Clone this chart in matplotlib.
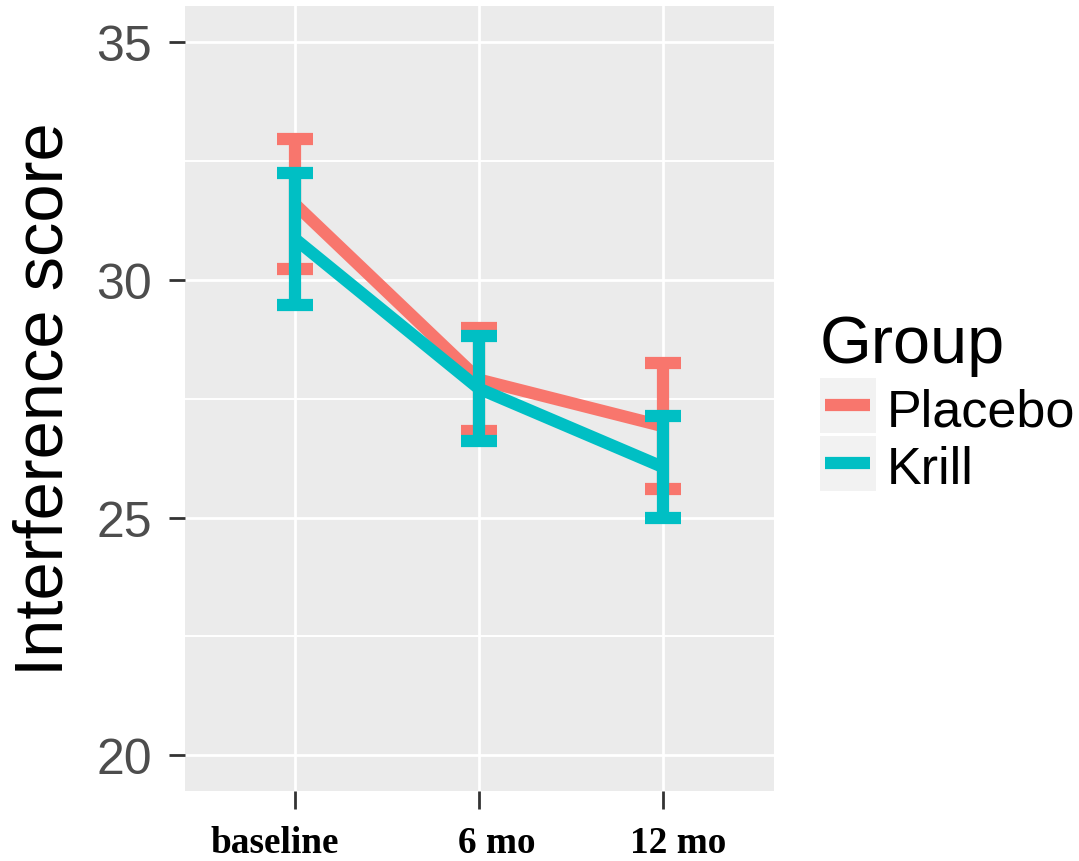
import matplotlib
matplotlib.use("Agg")
import matplotlib.pyplot as plt
import matplotlib.transforms as mtransforms
from matplotlib.patches import Rectangle
from matplotlib.lines import Line2D

# ---- data ----
timepoints = ["baseline", "6 mo", "12 mo"]
groups = ["Placebo", "Krill"]
placebo_mean = [31.59, 27.90, 26.92]
placebo_se = [1.36, 1.09, 1.33]
krill_mean = [30.86, 27.71, 26.06]
krill_se = [1.39, 1.11, 1.07]
y_ticks = [20, 25, 30, 35]
y_minor = [22.5, 27.5, 32.5]

colors = {"Placebo": "#F8766D", "Krill": "#00BFC4"}
means = {"Placebo": placebo_mean, "Krill": krill_mean}
ses = {"Placebo": placebo_se, "Krill": krill_se}

W, H = 1079, 862
DPI = 100
fig = plt.figure(figsize=(W / DPI, H / DPI), dpi=DPI)
fig.patch.set_facecolor("white")

# axes in pixel coordinates
L, R, T, B = 184.5, 773.5, 7.3, 792.0
ax = fig.add_axes([L / W, 1 - B / H, (R - L) / W, (B - T) / H])
ax.set_facecolor("#EBEBEB")
for s in ax.spines.values():
    s.set_visible(False)

x = [1, 2, 3]
ax.set_xlim(0.4, 3.6)
ax.set_ylim(19.25, 35.75)

# grid
for v in y_minor:
    ax.axhline(v, color="white", lw=1.4, zorder=0.5)
for v in y_ticks:
    ax.axhline(v, color="white", lw=2.0, zorder=0.6)
for v in x:
    ax.axvline(v, color="white", lw=2.0, zorder=0.6)

lw = 8.8
cap_half = 0.1
z = 2
for g in groups:
    m = means[g]
    s = ses[g]
    lo = [a - b for a, b in zip(m, s)]
    hi = [a + b for a, b in zip(m, s)]
    ax.plot(x, m, color=colors[g], lw=lw, solid_capstyle="butt",
            solid_joinstyle="miter", zorder=z)
    ax.vlines(x, lo, hi, color=colors[g], lw=lw, zorder=z + 0.5,
              capstyle="butt")
    xs0 = [xi - cap_half for xi in x]
    xs1 = [xi + cap_half for xi in x]
    ax.hlines(lo, xs0, xs1, color=colors[g], lw=lw, zorder=z + 0.5)
    ax.hlines(hi, xs0, xs1, color=colors[g], lw=lw, zorder=z + 0.5)
    z += 1

ax.set_yticks(y_ticks)
ax.set_yticklabels([str(v) for v in y_ticks], fontfamily="Liberation Sans",
                   fontsize=36, color="#4D4D4D")
ax.set_xticks(x)
ax.set_xticklabels([])
ax.tick_params(axis="y", length=11.5, width=2, color="#333333", pad=12)
ax.tick_params(axis="x", length=13, width=2, color="#333333")

# x tick labels (slightly shifted horizontally as in the reference)
label_dx = [-20, 18, 15]  # pixel offsets
ybase = 1 - 853 / H
blend = mtransforms.blended_transform_factory(ax.transData, fig.transFigure)
for xi, lab, dx in zip(x, timepoints, label_dx):
    off = mtransforms.ScaledTranslation(dx / DPI, 0, fig.dpi_scale_trans)
    ax.text(xi, ybase, lab, transform=blend + off, fontfamily="Liberation Serif",
            fontweight="bold", fontsize=26.8, color="black",
            ha="center", va="baseline", clip_on=False)

ax.set_ylabel("Interference score", fontfamily="Liberation Sans",
              fontsize=49.5, color="black", labelpad=14)

# legend drawn manually in figure pixel coords
def fx(px):
    return px / W

def fy(py):
    return 1 - py / H

fig.text(fx(820), fy(363), "Group", fontfamily="Liberation Sans",
         fontsize=48, color="black", ha="left", va="baseline")
key_tops = [379, 437]
label_base = [427, 484]
for g, kt, lb in zip(groups, key_tops, label_base):
    fig.patches.append(Rectangle((fx(820), fy(kt + 55)), fx(876) - fx(820),
                                 fy(kt) - fy(kt + 55), transform=fig.transFigure,
                                 facecolor="#F2F2F2", edgecolor="none"))
    yc = fy(kt + 27)
    fig.lines.append(Line2D([fx(825), fx(870)], [yc, yc], transform=fig.transFigure,
                            color=colors[g], lw=lw, solid_capstyle="butt"))
    fig.text(fx(887), fy(lb), g, fontfamily="Liberation Sans", fontsize=37.5,
             color="black", ha="left", va="baseline")

fig.savefig("out.png", dpi=DPI)
